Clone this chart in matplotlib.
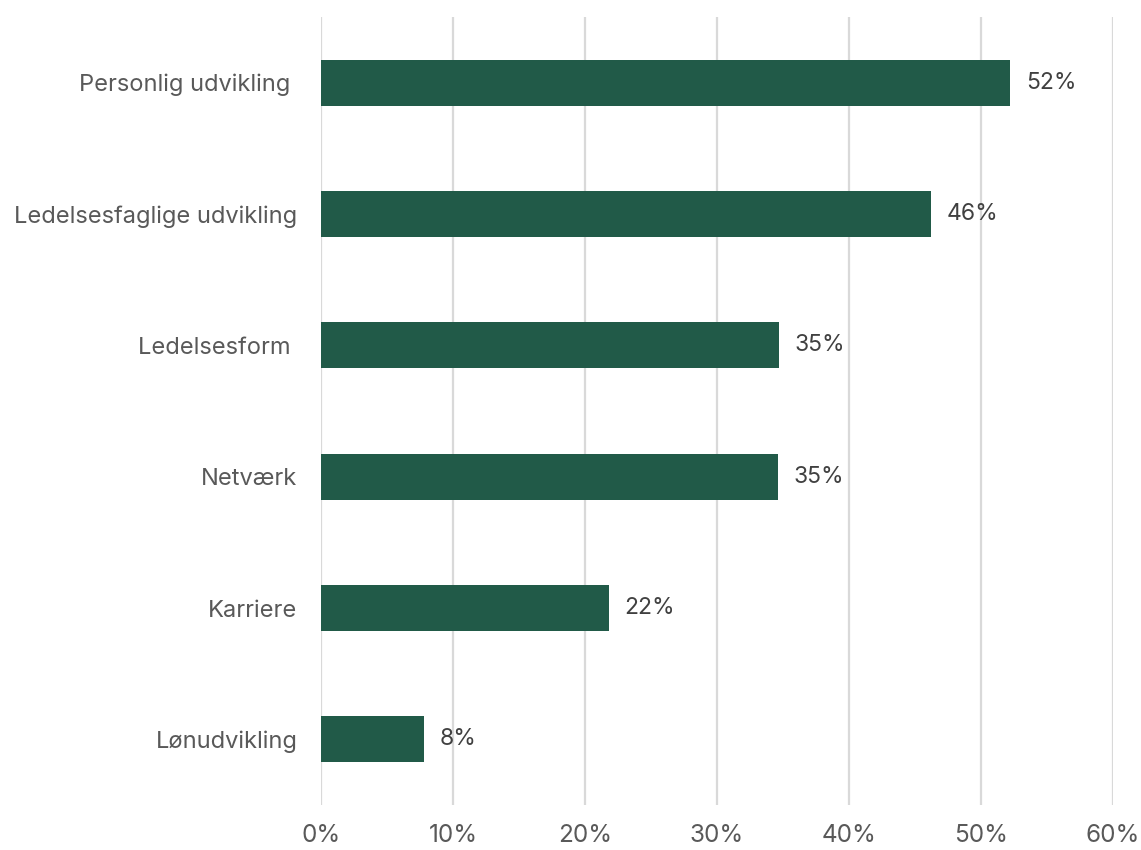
import matplotlib
matplotlib.use("Agg")
import matplotlib.pyplot as plt
import numpy as np

# Survey results: share of respondents per topic
categories = ['Personlig udvikling ', 'Ledelsesfaglige udvikling', 'Ledelsesform ',
              'Netværk', 'Karriere', 'Lønudvikling']
shares = [52.2, 46.2, 34.7, 34.6, 21.8, 7.8]
x_ticks = [0, 10, 20, 30, 40, 50, 60]

bar_color = '#215a48'
text_color = '#595959'
label_color = '#404040'

plt.rcParams['font.family'] = ['Inter', 'DejaVu Sans']

fig = plt.figure(figsize=(11.41, 8.5), dpi=100)
ax = fig.add_axes([0.2813, 0.0529, 0.6941, 0.927])

y = np.arange(len(categories))
ax.barh(y, shares, height=0.35, color=bar_color, zorder=3)

# value labels next to each bar
for yi, v in zip(y, shares):
    ax.text(v + 1.2, yi, f'{v:.0f}%', va='center', ha='left',
            fontsize=16.5, color=label_color)

ax.set_yticks(y)
ax.set_yticklabels(categories, fontsize=17, color=text_color)
ax.set_ylim(len(categories) - 0.5, -0.5)

ax.set_xlim(0, 60)
ax.set_xticks(x_ticks)
ax.set_xticklabels([f'{t}%' for t in x_ticks], fontsize=17.5, color=text_color)
ax.xaxis.grid(True, color='#d9d9d9', linewidth=1.6, zorder=0)
ax.tick_params(axis='both', length=0)
ax.tick_params(axis='y', pad=17)
ax.tick_params(axis='x', pad=14)

for side in ['top', 'right', 'bottom', 'left']:
    ax.spines[side].set_visible(False)

fig.savefig('out.png', dpi=100)
